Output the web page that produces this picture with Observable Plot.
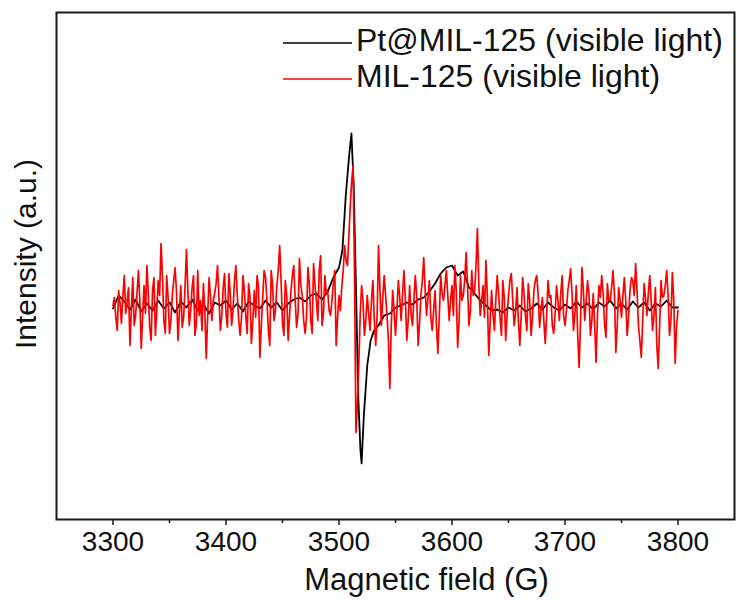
<!DOCTYPE html>
<html><head><meta charset="utf-8">
<script src="https://cdn.jsdelivr.net/npm/d3@7"></script>
<script src="https://cdn.jsdelivr.net/npm/@observablehq/plot@0.6"></script>
<style>body{margin:0;background:#fff}</style>
</head><body><div id="chart"></div>
<script>
const seriesNames = ["Pt@MIL-125 (visible light)", "MIL-125 (visible light)"];
const seriesColors = ["#000000", "#ff0000"];
const xLabel = "Magnetic field (G)";
const yLabel = "Intensity (a.u.)";
const xTicks = [3300, 3400, 3500, 3600, 3700, 3800];
const xMinorTicks = [3350, 3450, 3550, 3650, 3750];

// Pt@MIL-125 (black)
const blackField = [3300,3305,3310,3315,3320,3325,3330,3335,3340,3345,3350,3355,3360,3365,3370,3375,3380,3385,3390,3395,
3400,3405,3410,3415,3420,3425,3430,3435,3440,3445,3450,3455,3460,3465,3470,3475,3480,3485,3490,3495,
3500,3503,3506,3509,3511,3513,3515,3517,3519,3520,3522,3525,3528,3531,3535,3540,3545,3550,3555,3560,
3565,3570,3575,3580,3585,3590,3595,3600,3605,3610,3615,3620,3625,3630,3635,3640,3645,3650,3655,3660,
3665,3670,3675,3680,3685,3690,3695,3700,3705,3710,3715,3720,3725,3730,3735,3740,3745,3750,3755,3760,
3765,3770,3775,3780,3785,3790,3795,3800];
const blackIntensity = [-3,10,4,-4,6,-6,2,-5,5,-3,3,-7,4,-2,6,-5,1,-8,3,0,
5,-4,2,-6,4,0,-3,5,-2,3,-5,2,6,8,4,10,12,6,14,28,
38,55,110,150,172,120,20,-90,-145,-158,-110,-60,-35,-25,-20,-10,-8,-2,0,3,
1,6,8,14,22,32,38,40,30,34,18,12,5,0,-5,-4,-7,-2,-5,0,
-6,-3,2,-4,3,-2,-5,1,-3,4,-2,2,-4,3,-1,5,-3,2,-4,4,
-2,3,-5,2,-1,5,-2,-2];

// MIL-125 (red), sampled every 1.25 G from 3300 G
const redFieldStart = 3300, redFieldStep = 1.25;
const redIntensity = [
0,8,-12,-25,15,2,-18,10,30,-8,5,18,-40,-5,28,-20,-10,12,35,5,
-43,-10,20,-8,40,12,-22,-35,15,28,-30,-5,25,10,62,30,-15,-28,30,8,
-28,-15,10,25,38,12,-35,-8,20,-22,-12,18,56,15,-20,-5,18,30,-30,-18,
35,-10,5,-25,22,-5,-53,-12,28,10,-15,5,12,22,40,8,-25,-10,18,32,
-8,-22,32,12,-20,-5,25,40,10,-15,-30,-12,30,15,-10,-28,22,8,-38,-15,
15,-12,30,18,-52,-20,8,35,28,5,-25,-40,35,20,-15,-5,20,35,60,25,
-18,-30,25,10,-35,-10,15,30,40,5,-22,-8,47,20,10,-15,-28,-12,38,22,
-15,-28,42,20,5,-15,35,50,-20,-8,30,12,15,-5,-10,5,22,35,-40,-12,
10,-5,20,35,60,45,40,70,100,125,140,30,-127,-100,-60,-10,20,5,-30,-15,
10,-8,-25,5,25,-15,-40,-10,60,15,-20,8,30,10,-10,-35,-83,-20,15,-5,
-30,-5,25,8,-15,12,35,5,-35,-15,20,-8,-20,5,30,10,-40,-18,10,25,
48,15,-10,8,25,-12,-25,-5,15,-20,-48,-10,30,12,5,20,35,10,-15,5,
20,-10,40,15,-42,-15,30,5,10,25,53,20,-20,-5,35,10,15,40,77,20,
-10,5,20,-12,45,10,-50,-18,15,-8,-25,5,30,12,-12,-30,25,8,-35,-10,
10,25,32,5,-20,-8,18,-15,-40,-10,28,12,-10,-25,22,5,-30,-12,15,25,
30,10,-22,-5,8,-15,-38,-10,25,8,10,-20,-28,-8,20,5,-15,12,30,-10,
-20,-5,15,25,37,10,-25,-8,20,-30,-62,-15,38,15,-15,5,25,10,-30,-15,
12,-20,-57,-10,20,8,30,12,-18,-32,22,5,5,18,35,12,-47,-20,18,5,
-12,10,28,5,-30,-12,15,28,25,10,42,15,-20,-35,-52,-15,22,8,-10,12,
30,5,-25,-10,18,-40,-63,-20,25,8,10,20,35,10,-30,-15,33,5,-58,-20,
-5];

const blackData = blackField.map((f, i) => ({field: f, intensity: blackIntensity[i]}));
const redData = redIntensity.map((v, i) => ({field: redFieldStart + i * redFieldStep, intensity: v}));

const font = "'Liberation Sans', Arial, Helvetica, sans-serif";

function legend(index, scales, values, dims) {
  const g = d3.create("svg:g").attr("font-family", font).attr("text-anchor", "start");
  const x0 = dims.marginLeft, y0 = dims.marginTop;
  seriesNames.forEach((name, i) => {
    const y = y0 + 31 + i * 36;
    g.append("line").attr("x1", x0 + 227).attr("x2", x0 + 296).attr("y1", y).attr("y2", y)
      .attr("stroke", seriesColors[i]).attr("stroke-width", 1.6);
    g.append("text").attr("x", x0 + 300).attr("y", y + 8).attr("font-size", 32)
      .attr("text-anchor", "start").attr("fill", "#111").text(name);
  });
  return g.node();
}

const chart = Plot.plot({
  width: 737,
  height: 608,
  marginLeft: 56,
  marginRight: 3,
  marginTop: 12,
  marginBottom: 89,
  style: {fontFamily: font, background: "#fff", color: "#111"},
  x: {domain: [3250, 3850]},
  y: {domain: [-214, 293], axis: null},
  marks: [
    Plot.line(blackData, {x: "field", y: "intensity", stroke: seriesColors[0], strokeWidth: 1.8}),
    Plot.line(redData, {x: "field", y: "intensity", stroke: seriesColors[1], strokeWidth: 1.7}),
    Plot.frame({stroke: "#1a1a1a", strokeWidth: 2}),
    Plot.axisX({ticks: xTicks, tickFormat: d => String(d), tickSize: 6, tickPadding: 6, fontSize: 28, label: null, stroke: "#1a1a1a", strokeWidth: 1.5}),
    Plot.axisX({ticks: xMinorTicks, tickSize: 4, text: null, label: null, stroke: "#1a1a1a", strokeWidth: 1.5}),
    Plot.text([xLabel], {frameAnchor: "bottom", dx: 31, dy: 70, fontSize: 31, fill: "#111"}),
    Plot.text([yLabel], {frameAnchor: "left", textAnchor: "middle", rotate: -90, dx: -30, dy: -12, fontSize: 30, fill: "#111"}),
    legend
  ]
});
document.getElementById("chart").appendChild(chart);
</script>
</body></html>
